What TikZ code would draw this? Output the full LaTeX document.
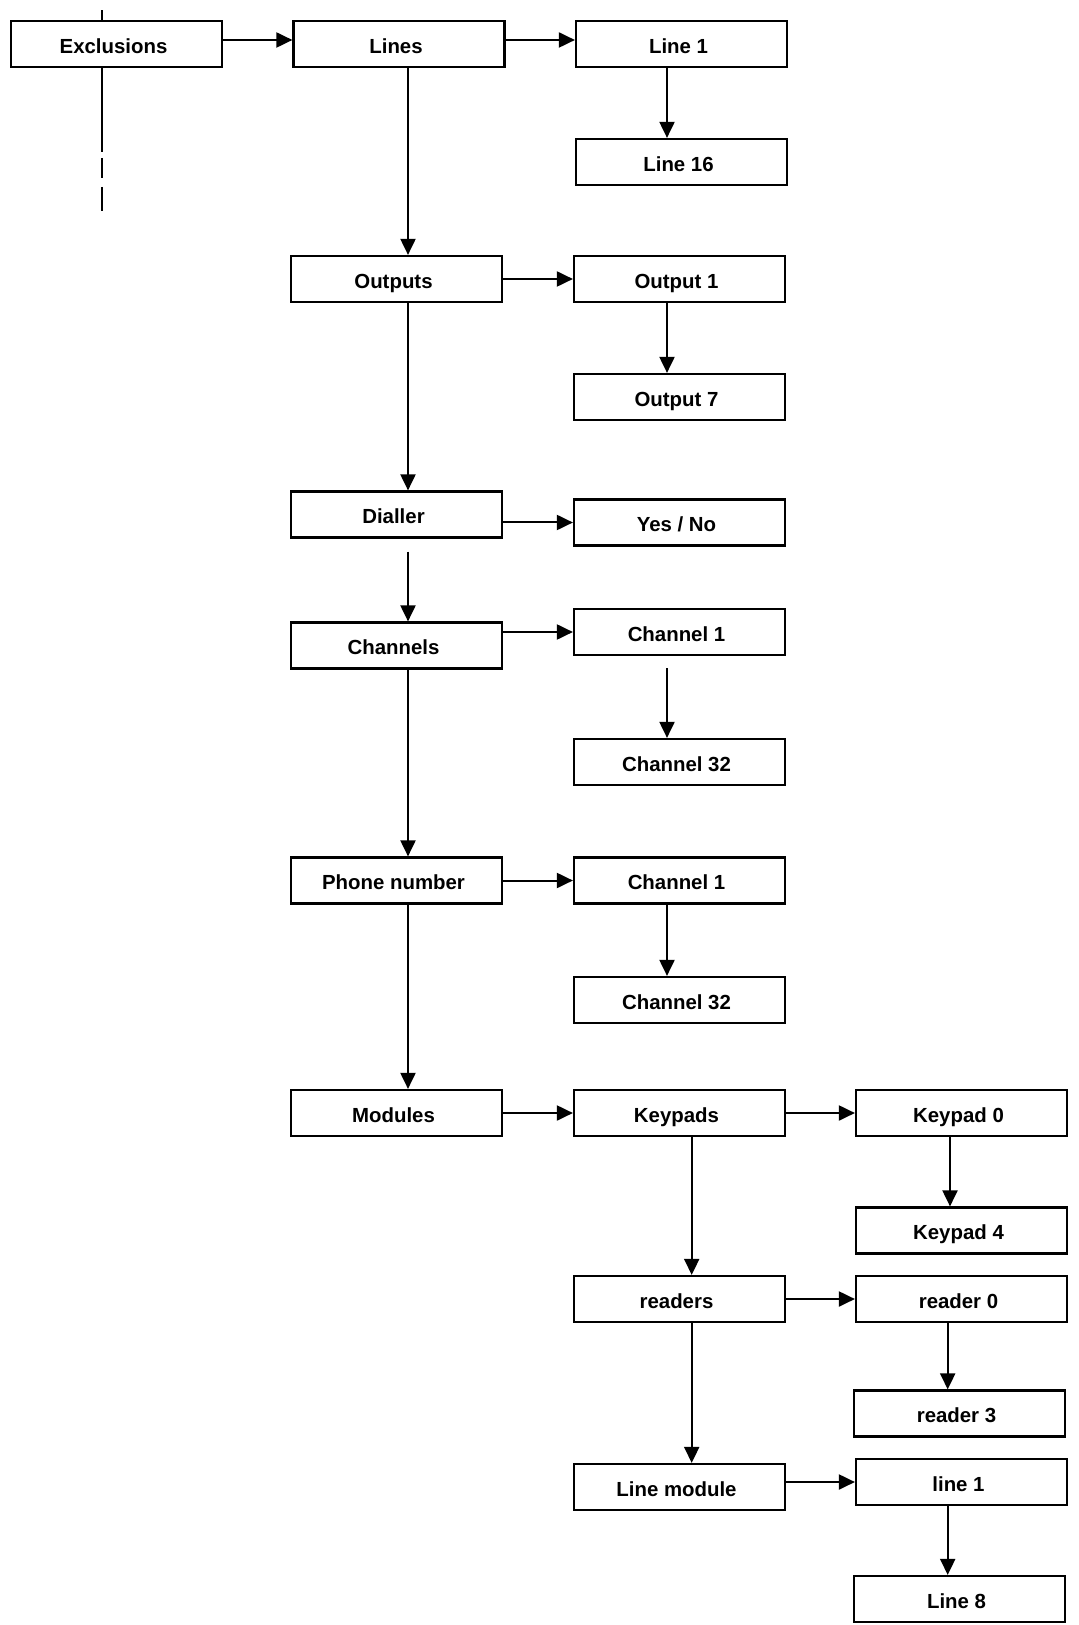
\documentclass[tikz,border=0pt]{standalone}
\usepackage{fontspec}
\setmainfont{Liberation Sans}
\usetikzlibrary{arrows.meta,calc}
\begin{document}
\begin{tikzpicture}[x=0.5pt,y=-0.5pt,
  box/.style={draw=black,line width=1.1pt,fill=white,minimum width=105.5pt,minimum height=23pt,inner sep=0pt,text height=9.4pt,text depth=0pt,execute at end node={\hspace*{3pt}},font=\bfseries\fontsize{10.2}{12}\selectfont},
  arr/.style={line width=1pt,-{Triangle[length=8pt,width=7.5pt]}},
  ln/.style={line width=1pt}]
\useasboundingbox (0,0) rectangle (1079,1625);
% column A
\node[box] (excl) at (116.5,44) {Exclusions};
% column B
\node[box] (lines) at (399,44) {Lines};
\node[box] (outputs) at (396.5,279) {Outputs};
\node[box] (dialler) at (396.5,514.5) {Dialler};
\node[box] (channels) at (396.5,645.5) {Channels};
\node[box] (phone) at (396.5,880.5) {Phone number};
\node[box] (modules) at (396.5,1113) {Modules};
% column C
\node[box] (l1) at (681.5,44) {Line 1};
\node[box] (l16) at (681.5,162) {Line 16};
\node[box] (o1) at (679.5,279) {Output 1};
\node[box] (o7) at (679.5,397) {Output 7};
\node[box] (yn) at (679.5,522.5) {Yes / No};
\node[box] (ch1) at (679.5,632) {Channel 1};
\node[box] (ch32) at (679.5,762) {Channel 32};
\node[box] (pch1) at (679.5,880.5) {Channel 1};
\node[box] (pch32) at (679.5,1000) {Channel 32};
\node[box] (keypads) at (679.5,1113) {Keypads};
\node[box] (readers) at (679.5,1299) {readers};
\node[box] (linemod) at (679.5,1487) {Line module};
% column D
\node[box] (kp0) at (961.5,1113) {Keypad 0};
\node[box] (kp4) at (961.5,1230.5) {Keypad 4};
\node[box] (rd0) at (961.5,1299) {reader 0};
\node[box] (rd3) at (959.5,1413.5) {reader 3};
\node[box] (ln1) at (961.5,1482) {line 1};
\node[box] (ln8) at (959.5,1599) {Line 8};
% trunk x positions
\coordinate (tA) at (102,0);
\coordinate (tB) at (408,0);
\coordinate (tC) at (667,0);
\coordinate (tK) at (691.7,0);
\coordinate (tD1) at (950,0);
\coordinate (tD2) at (947.7,0);
% exclusions vertical line
\coordinate (etop) at (102,10);
\coordinate (ea) at (102,152);
\coordinate (eb1) at (102,158);
\coordinate (eb2) at (102,178);
\coordinate (ec1) at (102,187);
\coordinate (ec2) at (102,211);
\draw[ln] (excl.north -| tA) -- (etop);
\draw[ln] (excl.south -| tA) -- (ea);
\draw[ln] (eb1) -- (eb2);
\draw[ln] (ec1) -- (ec2);
% arrows
\draw[arr] ([yshift=2pt]excl.east) -- ([yshift=2pt]lines.west);
\draw[arr] ([yshift=2pt]lines.east) -- ([yshift=2pt]l1.west);
\draw[arr] (lines.south -| tB) -- (outputs.north -| tB);
\draw[arr] (l1.south -| tC) -- (l16.north -| tC);
\draw[arr] (outputs.east) -- (o1.west);
\draw[arr] (o1.south -| tC) -- (o7.north -| tC);
\draw[arr] (outputs.south -| tB) -- (dialler.north -| tB);
\draw[arr] (dialler.east |- yn.west) -- (yn.west);
\draw[arr] ($(dialler.south -| tB)+(0,13)$) -- (channels.north -| tB);
\draw[arr] (channels.east |- ch1.west) -- (ch1.west);
\draw[arr] ($(ch1.south -| tC)+(0,12)$) -- (ch32.north -| tC);
\draw[arr] (channels.south -| tB) -- (phone.north -| tB);
\draw[arr] (phone.east) -- (pch1.west);
\draw[arr] (pch1.south -| tC) -- (pch32.north -| tC);
\draw[arr] (phone.south -| tB) -- (modules.north -| tB);
\draw[arr] (modules.east) -- (keypads.west);
\draw[arr] (keypads.east) -- (kp0.west);
\draw[arr] (kp0.south -| tD1) -- (kp4.north -| tD1);
\draw[arr] (keypads.south -| tK) -- (readers.north -| tK);
\draw[arr] (readers.east) -- (rd0.west);
\draw[arr] (rd0.south -| tD2) -- (rd3.north -| tD2);
\draw[arr] (readers.south -| tK) -- (linemod.north -| tK);
\draw[arr] (linemod.east |- ln1.west) -- (ln1.west);
\draw[arr] (ln1.south -| tD2) -- (ln8.north -| tD2);
\end{tikzpicture}
\end{document}
